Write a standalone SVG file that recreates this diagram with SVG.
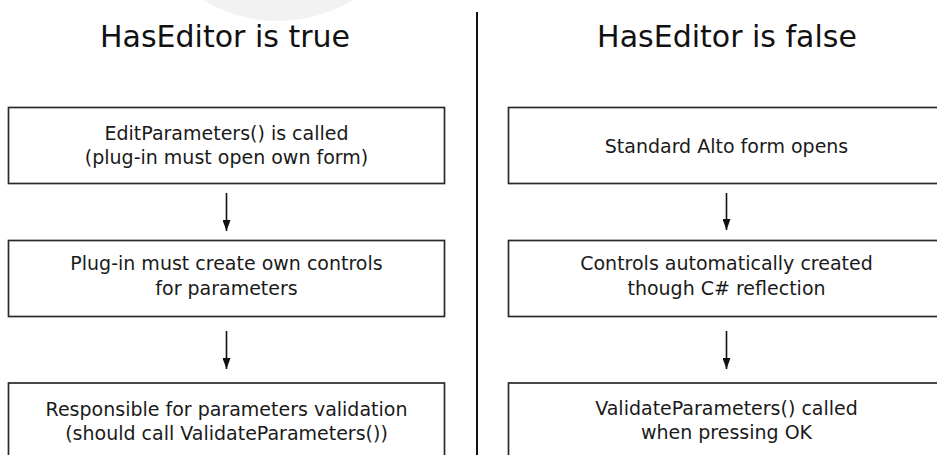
<svg xmlns="http://www.w3.org/2000/svg" width="937" height="455" viewBox="0 0 937 455">
<defs>
<style>
.box{fill:#fff;stroke:#2a2a2a;stroke-width:1.7}
.t{font-family:"DejaVu Sans",sans-serif;font-size:19px;fill:#1a1a1a;text-anchor:middle}
.title{font-family:"DejaVu Sans",sans-serif;font-size:30px;fill:#111;text-anchor:middle}
.edge{stroke:#111;stroke-width:1.6;fill:none}
</style>
<marker id="ah" viewBox="0 0 11 8" refX="11" refY="4" markerWidth="11" markerHeight="8" markerUnits="userSpaceOnUse" orient="auto">
<path d="M0,0 L11,4 L0,8 Z" fill="#111"/>
</marker>
</defs>
<rect width="937" height="455" fill="#fff"/>
<circle cx="278" cy="-123" r="144" fill="#f2f2f2"/>
<line x1="477" y1="12" x2="477" y2="455" stroke="#111" stroke-width="2"/>
<text class="title" x="225" y="47">HasEditor is true</text>
<text class="title" x="727" y="47">HasEditor is false</text>
<g id="n1"><rect class="box" x="8.5" y="107.5" width="436" height="76"/><text class="t" x="226.5" y="140">EditParameters() is called</text><text class="t" x="226.5" y="164">(plug-in must open own form)</text></g>
<g id="n2"><rect class="box" x="8.5" y="240.5" width="436" height="76"/><text class="t" x="226.5" y="270">Plug-in must create own controls</text><text class="t" x="226.5" y="295">for parameters</text></g>
<g id="n3"><rect class="box" x="8.5" y="383" width="436" height="80"/><text class="t" x="226.5" y="416">Responsible for parameters validation</text><text class="t" x="226.5" y="440">(should call ValidateParameters())</text></g>
<g id="n4"><rect class="box" x="508.5" y="107.5" width="436" height="76"/><text class="t" x="726.5" y="153">Standard Alto form opens</text></g>
<g id="n5"><rect class="box" x="508.5" y="240.5" width="436" height="76"/><text class="t" x="726.5" y="270">Controls automatically created</text><text class="t" x="726.5" y="295">though C# reflection</text></g>
<g id="n6"><rect class="box" x="508.5" y="383" width="436" height="80"/><text class="t" x="726.5" y="415">ValidateParameters() called</text><text class="t" x="726.5" y="439">when pressing OK</text></g>
<g id="edges">
<line class="edge" x1="226.5" y1="193" x2="226.5" y2="231" marker-end="url(#ah)"/>
<line class="edge" x1="226.5" y1="331" x2="226.5" y2="369" marker-end="url(#ah)"/>
<line class="edge" x1="726.5" y1="193" x2="726.5" y2="230" marker-end="url(#ah)"/>
<line class="edge" x1="726.5" y1="331" x2="726.5" y2="369" marker-end="url(#ah)"/>
</g>
</svg>
